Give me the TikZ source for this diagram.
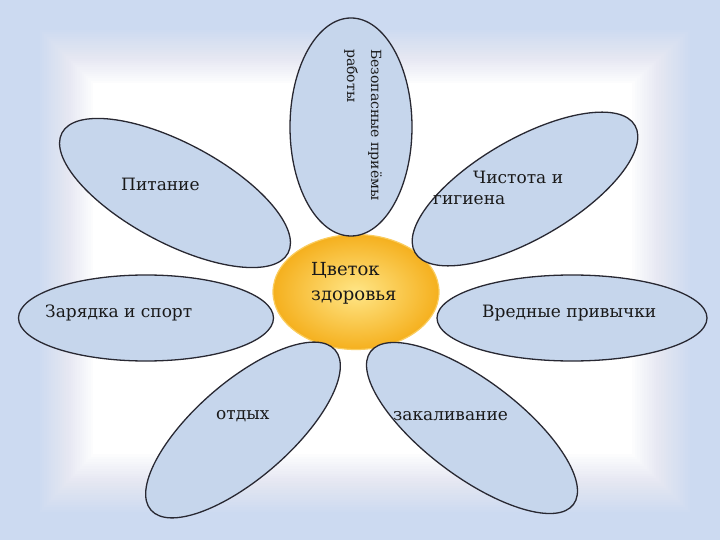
\documentclass[tikz,border=0pt]{standalone}
\usepackage{fontspec}
\setmainfont{DejaVu Serif}
\usepackage{xcolor}
\usepackage{tikz}
\usetikzlibrary{shapes.geometric}
\definecolor{frost}{RGB}{204,218,241}
\definecolor{petalblue}{RGB}{198,214,236}
\definecolor{rim}{RGB}{40,40,50}
\definecolor{sunin}{RGB}{255,230,135}
\definecolor{sunout}{RGB}{245,176,30}
\definecolor{sunrim}{RGB}{250,205,95}

\begin{document}
\begin{tikzpicture}[x=1pt,y=-1pt,
  petal/.style={ellipse,draw=rim,fill=petalblue,line width=1.3pt,inner sep=0pt},
  word/.style={inner sep=0pt,text=black!90,font=\fontsize{17}{23}\selectfont}]
 \useasboundingbox (0,0) rectangle (720,540);
 % frosted frame, fading into the white page
 \fill[frost] (0,0) rectangle (720,540);
 \foreach \i in {0,...,24}
   \fill[white,opacity={1/(25-\i)}] (40+2.2*\i,30+2.2*\i) rectangle (690-2.4*\i,512-2.4*\i);

 \node[ellipse,minimum width=166pt,minimum height=115pt,inner color=sunin,
   outer color=sunout,draw=sunrim,line width=1.2pt] (core) at (356,292) {};

 \node[petal,minimum width=122pt,minimum height=218pt] (p1) at (351,127) {};
 \node[petal,minimum width=256pt,minimum height=100pt,rotate=-28] (p2) at (175,193) {};
 \node[petal,minimum width=254pt,minimum height=100pt,rotate=30] (p3) at (525,189) {};
 \node[petal,minimum width=255pt,minimum height=86pt] (p4) at (146,318) {};
 \node[petal,minimum width=270pt,minimum height=86pt] (p5) at (572,318) {};
 \node[petal,minimum width=244pt,minimum height=96pt,rotate=41] (p6) at (243,430) {};
 \node[petal,minimum width=254pt,minimum height=96pt,rotate=-37] (p7) at (472,428) {};

 \node[word,font=\fontsize{18}{25}\selectfont,anchor=north west,align=left] (t0) at (311,262) {Цветок\\здоровья};
 \node[word,font=\fontsize{14}{24}\selectfont,anchor=north west,align=left,rotate=-90] (t1) at (382,49) {Безопасные приёмы\\работы};
 \node[word,anchor=base west] (t2) at (121,191) {Питание};
 \node[word,font=\fontsize{17}{21}\selectfont,anchor=north west,align=left] (t3) at (433,171) {\hspace*{40pt}Чистота и\\гигиена};
 \node[word,anchor=base west] (t4) at (45,317) {Зарядка и спорт};
 \node[word,anchor=base west] (t5) at (482,317) {Вредные привычки};
 \node[word,anchor=base west] (t6) at (216,419) {отдых};
 \node[word,anchor=base west] (t7) at (393,420) {закаливание};
\end{tikzpicture}
\end{document}
